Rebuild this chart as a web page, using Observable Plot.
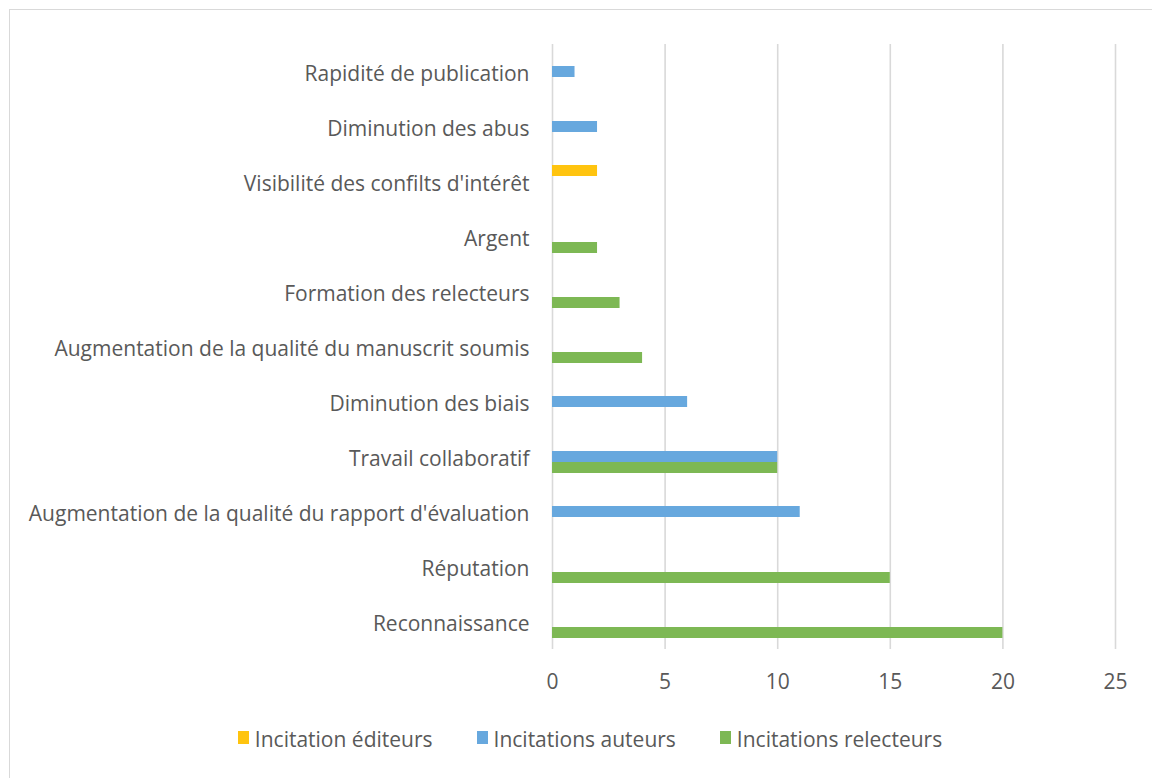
<!DOCTYPE html>
<html>
<head>
<meta charset="utf-8">
<script src="https://cdn.jsdelivr.net/npm/d3@7"></script>
<script src="https://cdn.jsdelivr.net/npm/@observablehq/plot@0.6"></script>
<style>
  html, body { margin: 0; padding: 0; background: #fff; overflow: hidden; }
  body { width: 1152px; height: 778px; position: relative; font-family: "Open Sans", Lato, sans-serif; }
  #frame { position: absolute; left: 9px; top: 9px; width: 1160px; height: 790px; border: 1.5px solid #d9d9d9; box-sizing: border-box; }
  #chart { position: absolute; left: 0; top: 0; }
  #legend { position: absolute; left: 0; top: 725px; width: 1152px; display: flex; justify-content: center; gap: 44px; font-size: 21px; color: #595959; padding-left: 28px; box-sizing: border-box; }
  .item { display: flex; align-items: center; }
  .sw { width: 11px; height: 13px; margin-right: 6px; margin-top: -3px; }
</style>
</head>
<body>
<div id="frame"></div>
<div id="chart"></div>
<div id="legend"></div>
<script>
const categories = [
  "Rapidité de publication",
  "Diminution des abus",
  "Visibilité des confilts d'intérêt",
  "Argent",
  "Formation des relecteurs",
  "Augmentation de la qualité du manuscrit soumis",
  "Diminution des biais",
  "Travail collaboratif",
  "Augmentation de la qualité du rapport d'évaluation",
  "Réputation",
  "Reconnaissance"
];
const seriesNames = ["Incitation éditeurs", "Incitations auteurs", "Incitations relecteurs"];
const editeurs   = [null, null, 2, null, null, null, null, null, null, null, null];
const auteurs    = [1, 2, null, null, null, null, 6, 10, 11, null, null];
const relecteurs = [null, null, null, 2, 3, 4, null, 10, null, 15, 20];
const xTicks = [0, 5, 10, 15, 20, 25];
const colors = ["#ffc40f", "#67a8de", "#7db854"];

const seriesValues = [editeurs, auteurs, relecteurs];
const data = [];
seriesValues.forEach((vals, s) => vals.forEach((v, i) => {
  if (v != null) data.push({category: categories[i], series: seriesNames[s], value: v});
}));

const chart = Plot.plot({
  width: 1152,
  height: 720,
  marginLeft: 552,
  marginRight: 37,
  marginTop: 44,
  marginBottom: 71,
  style: {fontFamily: "'Open Sans', Lato, sans-serif", color: "#595959", background: "transparent"},
  x: {domain: [0, 25], axis: null},
  y: {domain: seriesNames, axis: null, paddingInner: 0, paddingOuter: 1, round: false},
  fy: {domain: categories, padding: 0, axis: null, round: false},
  color: {domain: seriesNames, range: colors},
  marks: [
    Plot.gridX(xTicks, {stroke: "#d9d9d9", strokeOpacity: 1, strokeWidth: 1.6}),
    Plot.barX(data, {x: "value", y: "series", fy: "category", fill: "series"}),
    Plot.axisX(xTicks, {tickSize: 0, tickPadding: 25, fontSize: 21, fill: "#595959", textStroke: "none", label: null, anchor: "bottom"}),
    Plot.axisFy({tickSize: 0, tickPadding: 23, fontSize: 21, fill: "#595959", label: null, anchor: "left", dy: 2})
  ]
});
document.getElementById("chart").appendChild(chart);

const legend = document.getElementById("legend");
seriesNames.forEach((name, i) => {
  const item = document.createElement("div");
  item.className = "item";
  const sw = document.createElement("span");
  sw.className = "sw";
  sw.style.background = colors[i];
  const t = document.createElement("span");
  t.textContent = name;
  item.appendChild(sw);
  item.appendChild(t);
  legend.appendChild(item);
});
</script>
</body>
</html>
